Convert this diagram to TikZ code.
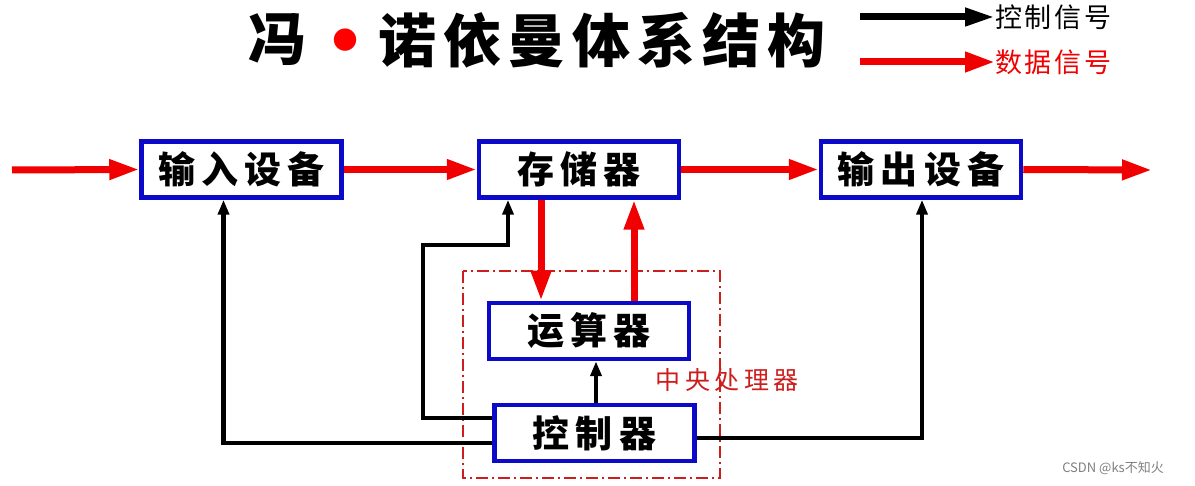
\documentclass[tikz,border=0pt]{standalone}
\usepackage{fontspec}
\newfontfamily\cjk{Noto Sans CJK SC}
\usetikzlibrary{arrows.meta,calc}
\definecolor{boxblue}{RGB}{10,10,200}
\definecolor{sigred}{RGB}{240,0,0}
\definecolor{cpured}{RGB}{205,30,30}
\tikzset{
  unit/.style={draw=boxblue, line width=4.5pt, fill=white, minimum width=200pt, minimum height=56pt, inner sep=0pt,
    font=\cjk\bfseries\fontsize{37}{37}\selectfont\addfontfeature{LetterSpace=17}},
  dataflow/.style={draw=sigred, line width=7pt, -{Triangle[length=30pt,width=19pt]}},
  ctrlflow/.style={draw=black, line width=4.5pt, -{Triangle[length=15pt,width=11pt]}},
  legendtxt/.style={anchor=west, inner sep=0pt, font=\cjk\fontsize{27}{27}\selectfont\addfontfeature{LetterSpace=10}},
}
\begin{document}
\begin{tikzpicture}[x=1pt,y=-1pt]
\useasboundingbox[fill=white] (0,0) rectangle (1195,486);
% title
\node[font=\cjk\bfseries\fontsize{58}{58}\selectfont] (t1) at (277,40) {冯};
\node[text=red, inner sep=0pt, font=\cjk\bfseries\fontsize{80}{80}\selectfont] (tdot) at (345,50) {·};
\node[font=\cjk\bfseries\fontsize{58}{58}\selectfont\addfontfeature{LetterSpace=12}] (t2) at (602,40) {诺依曼体系结构};
% legend
\node[legendtxt] (lc) at (995,17) {控制信号};
\node[legendtxt, text=sigred] (ld) at (995,62) {数据信号};
\coordinate (lcs) at (860,17);
\coordinate (lds) at (860,62);
\draw[line width=7pt, -{Triangle[length=30pt,width=17pt]}] (lcs) -- (lc.west);
\draw[dataflow] (lds) -- (ld.west);
% CPU frame
\draw[cpured, line width=1.5pt, dash pattern=on 12pt off 4pt on 2pt off 4pt] (463,271) rectangle (720,478);
\node[text=cpured, font=\cjk\fontsize{25}{25}\selectfont\addfontfeature{LetterSpace=18}] (cpu) at (727,380) {中央处理器};
% units
\node[unit] (inp) at (241.5,169.5) {输入设备};
\node[unit] (mem) at (579,169.5) {存储器};
\node[unit] (out) at (921,169.5) {输出设备};
\node[unit] (alu) at (589,331) {运算器};
\node[unit] (ctl) at (594.5,433) {控制器};
% data flow
\coordinate (src) at (12,170);
\coordinate (snk) at (1152,170);
\draw[dataflow] (src) -- (inp.west);
\draw[dataflow] (inp.east) -- (mem.west);
\draw[dataflow] (mem.east) -- (out.west);
\draw[dataflow] (out.east) -- (snk);
\draw[dataflow] ([xshift=-38pt]mem.south) -- ([xshift=-38pt]mem.south |- alu.north);
\draw[dataflow] ([xshift=55pt]mem.south |- alu.north) -- ([xshift=55pt]mem.south);
% control flow
\coordinate (k1) at (423,245);
\coordinate (k2) at (508,245);
\draw[ctrlflow] ([xshift=1.5pt]ctl.north) -- ([xshift=1.5pt]ctl.north |- alu.south);
\draw[ctrlflow] ([yshift=15pt]ctl.west) -| (k1) -- (k2) -- (k2 |- mem.south);
\draw[ctrlflow] ([yshift=-10pt]ctl.west) -| ([xshift=-18pt]inp.south);
\draw[ctrlflow] ([yshift=-5pt]ctl.east) -| ([xshift=1pt]out.south);
% watermark
\node[text=gray, font=\cjk\fontsize{13}{13}\selectfont] (wm) at (1113,468) {CSDN @ks不知火};
\end{tikzpicture}
\end{document}
